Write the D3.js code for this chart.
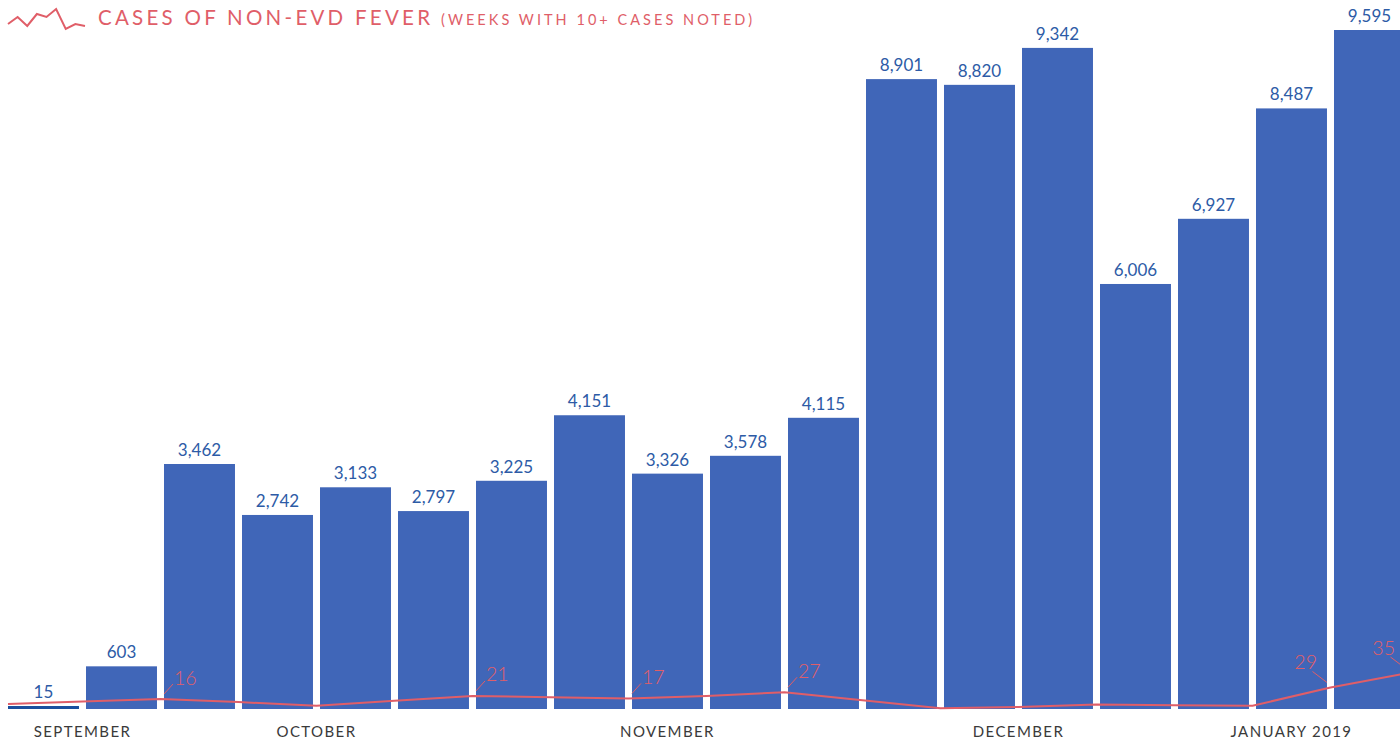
<!DOCTYPE html>
<html><head><meta charset="utf-8">
<script src="https://cdn.jsdelivr.net/npm/d3@7/dist/d3.min.js"></script>
<style>
body{margin:0;background:#fff;}
svg{display:block;font-family:Lato,'Open Sans',sans-serif;}
</style></head>
<body><svg id="c" width="1400" height="740"></svg>
<script>
// ---- data ----
const weeks = ["W1","W2","W3","W4","W5","W6","W7","W8","W9","W10","W11","W12","W13","W14","W15","W16","W17","W18"];
const evdCases = [15,603,3462,2742,3133,2797,3225,4151,3326,3578,4115,8901,8820,9342,6006,6927,8487,9595];
// non-EVD fever line: one point per week boundary (last one lies just past the visible edge)
const feverCases = [8,12,16,11,5,13,21,19,17,21,27,14,1,3,7,6,5,29,35];
const feverLabelled = [2,6,8,10,17,18];
const monthLabels = ["SEPTEMBER","OCTOBER","NOVEMBER","DECEMBER","JANUARY 2019"];
const monthWeekPos = [1,4,8.5,13,16.5];
const iconShape = [5,12,3,15,12,20,0,5,3];
const titleMain = "CASES OF NON-EVD FEVER";
const titleSub = "(WEEKS WITH 10+ CASES NOTED)";

// ---- layout ----
const W = 1400, H = 740;
const padL = 8, baseY = 709, topY = 30;
const blue = "#4066B8", blueText = "#2D5BA6", red = "#E05E68";
const svg = d3.select("#c");

const x = d3.scaleBand().domain(weeks).range([padL, padL + 78*(weeks.length - 0.09)]).paddingInner(0.09).paddingOuter(0);
const step = x.step(), gap = step - x.bandwidth();
const y = d3.scaleLinear().domain([0, d3.max(evdCases)]).range([baseY, topY]);
const posAt = w => padL + step*w - gap/2;   // fractional week -> px (gap centre)

// bars
const g = svg.append("g");
g.selectAll("rect").data(evdCases).join("rect")
  .attr("x",(d,i)=>x(weeks[i]))
  .attr("width",x.bandwidth())
  .attr("y",d=>Math.min(y(d), baseY-3))
  .attr("height",d=>Math.max(baseY-y(d),3))
  .attr("fill",d=>(baseY-y(d))<3 ? "#1B4F9E" : blue);

g.selectAll("text.v").data(evdCases).join("text").attr("class","v")
  .attr("x",(d,i)=>x(weeks[i])+x.bandwidth()/2)
  .attr("y",d=>Math.min(y(d), baseY-3)-8)
  .attr("text-anchor","middle").attr("fill",blueText)
  .style("font-size","17px")
  .text(d=>d3.format(",")(d));

// red line
const yr = d3.scaleLinear().domain([0,27,35]).range([baseY-0.2, baseY-16.7, baseY-36]);
const xr = i => Math.max(padL, posAt(i));
const line = d3.line().x((d,i)=>xr(i)).y(d=>yr(d));
svg.append("path").datum(feverCases).attr("d",line)
  .attr("fill","none").attr("stroke",red).attr("stroke-width",2).attr("stroke-linejoin","round");

const lg = svg.append("g");
feverLabelled.forEach(i=>{
  const px = xr(i), py = yr(feverCases[i]);
  const rightSide = px > W - 120;
  const s = rightSide ? -1 : 1;
  lg.append("line")
    .attr("x1",px+s*3.5).attr("y1",py-5)
    .attr("x2",px+s*(rightSide?18:12.5)).attr("y2",py-(rightSide?16:15))
    .attr("stroke",red).attr("stroke-width",1);
  lg.append("text")
    .attr("x",px+s*13.5).attr("y",py-(rightSide?18.5:14.5))
    .attr("text-anchor",rightSide?"end":"start")
    .attr("fill",red).style("font-size","19.5px").style("font-weight",300)
    .text(feverCases[i]);
});

// month labels
svg.append("g").selectAll("text").data(monthLabels).join("text")
  .attr("x",(d,i)=>posAt(monthWeekPos[i]))
  .attr("y",737)
  .attr("text-anchor","middle")
  .attr("fill","#3a3a3a")
  .style("font-size","15px").style("letter-spacing","1.4px")
  .text(d=>d);

// title + icon
const ix = d3.scalePoint().domain(d3.range(iconShape.length)).range([8,85]);
const iy = d3.scaleLinear().domain([0,20]).range([29,9]);
svg.append("path").datum(iconShape)
  .attr("d",d3.line().x((d,i)=>ix(i)).y(d=>iy(d)))
  .attr("fill","none").attr("stroke",red).attr("stroke-width",2).attr("stroke-linejoin","miter");
svg.append("text").attr("x",98).attr("y",24.5).attr("fill",red)
  .style("font-size","20.5px").style("font-weight",400)
  .attr("textLength",332).attr("lengthAdjust","spacing").text(titleMain);
svg.append("text").attr("x",441).attr("y",24.5).attr("fill",red)
  .style("font-size","14.5px").style("font-weight",400)
  .attr("textLength",311).attr("lengthAdjust","spacing").text(titleSub);
</script>
</body></html>
